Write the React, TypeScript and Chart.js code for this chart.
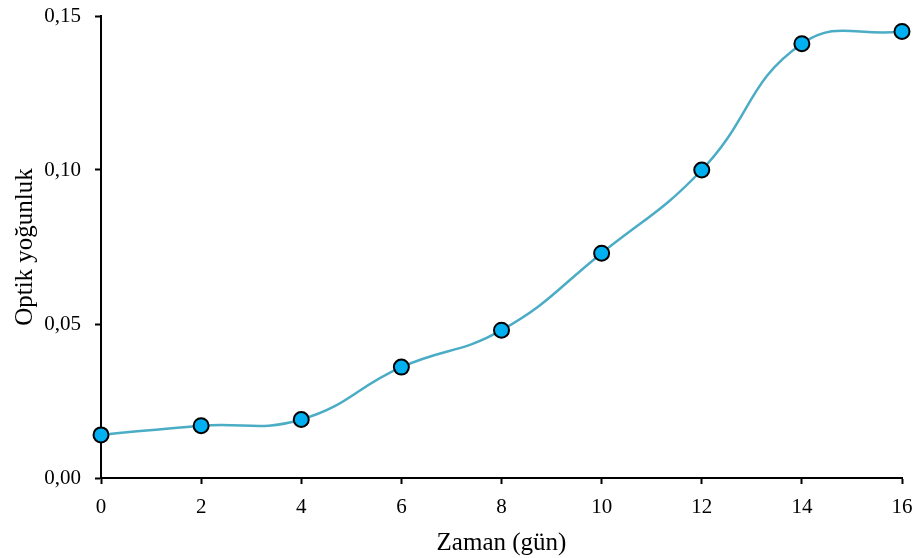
import React, { useEffect, useRef } from "react";
import { Chart, registerables } from "chart.js";

Chart.register(...registerables);

const days = [0, 2, 4, 6, 8, 10, 12, 14, 16];
const opticalDensity = [0.014, 0.017, 0.019, 0.036, 0.048, 0.073, 0.1, 0.141, 0.145];
const xTicks = [0, 2, 4, 6, 8, 10, 12, 14, 16];
const yTicks = [0, 0.05, 0.1, 0.15];

const FONT = "'Liberation Serif', 'Times New Roman', serif";

export default function App() {
  const ref = useRef<HTMLCanvasElement | null>(null);
  useEffect(() => {
    if (!ref.current) return;
    const chart = new Chart(ref.current, {
      type: "line",
      data: {
        datasets: [
          {
            data: days.map((d, i) => ({ x: d, y: opticalDensity[i] })),
            borderColor: "#4bacc6",
            borderWidth: 2.5,
            tension: 0.45,
            pointRadius: 7.5,
            pointBackgroundColor: "#00b0f0",
            pointBorderColor: "#000000",
            pointBorderWidth: 2,
            clip: false as any,
          },
        ],
      },
      options: {
        animation: false,
        responsive: true,
        maintainAspectRatio: false,
        layout: { padding: { left: 0, right: 13, top: 16, bottom: 0 } },
        plugins: { legend: { display: false }, tooltip: { enabled: false } },
        scales: {
          x: {
            type: "linear",
            min: 0,
            max: 16,
            afterBuildTicks: (s: any) => {
              s.ticks = xTicks.map((v) => ({ value: v }));
            },
            afterFit: (s: any) => {
              s.height = 80;
              s.paddingLeft = 0;
              s.paddingRight = 0;
            },
            ticks: {
              color: "#000",
              font: { family: FONT, size: 21 },
              padding: 11,
              maxRotation: 0,
              callback: (v: any) => String(v),
            },
            grid: {
              drawOnChartArea: false,
              drawTicks: true,
              tickLength: 6,
              tickWidth: 2,
              tickColor: "#000",
            },
            border: { display: true, color: "#000", width: 2 },
            title: {
              display: true,
              text: "Zaman (gün)",
              color: "#000",
              font: { family: FONT, size: 25 },
              padding: { top: 4, bottom: 0 },
            },
          },
          y: {
            type: "linear",
            min: 0,
            max: 0.15,
            afterBuildTicks: (s: any) => {
              s.ticks = yTicks.map((v) => ({ value: v }));
            },
            afterFit: (s: any) => {
              s.width = 101;
              s.paddingTop = 0;
              s.paddingBottom = 0;
            },
            ticks: {
              color: "#000",
              font: { family: FONT, size: 21 },
              padding: 14,
              callback: (v: any) => Number(v).toFixed(2).replace(".", ","),
            },
            grid: {
              drawOnChartArea: false,
              drawTicks: true,
              tickLength: 6,
              tickWidth: 2,
              tickColor: "#000",
            },
            border: { display: true, color: "#000", width: 2 },
            title: {
              display: true,
              text: "Optik yoğunluk",
              color: "#000",
              font: { family: FONT, size: 25 },
              padding: { top: 10, bottom: 0 },
            },
          },
        },
      },
    });
    return () => chart.destroy();
  }, []);
  return (
    <div style={{ position: "absolute", left: 0, top: 0, width: 915, height: 558, background: "#fff" }}>
      <canvas ref={ref} />
    </div>
  );
}
